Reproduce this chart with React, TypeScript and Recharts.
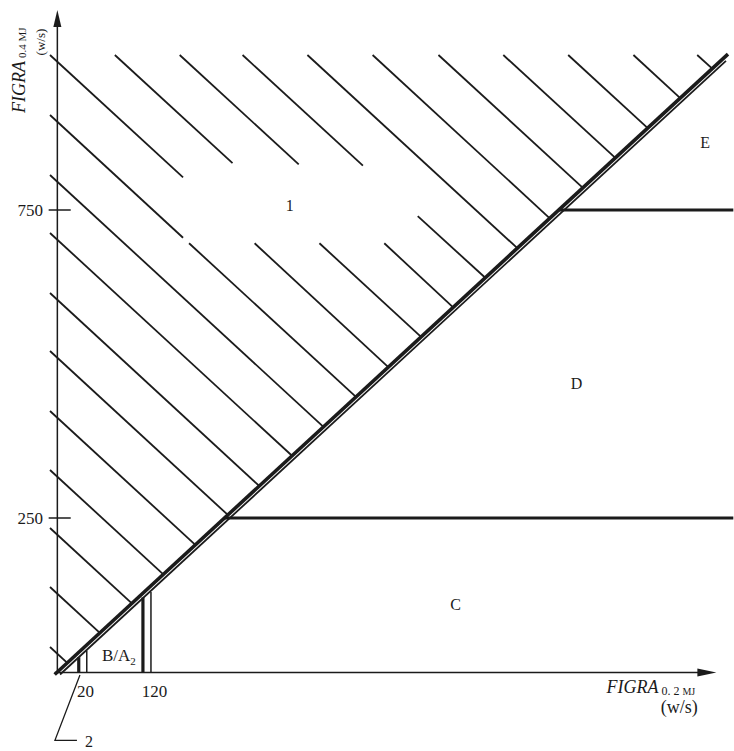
import React from "react";
import { ComposedChart, Line, Scatter, XAxis, YAxis } from "recharts";

type Seg = [number, number, number, number];
type Pt = { x: number; y: number };

// Hatch segments (x1, y1, x2, y2), in FIGRA units
const hatchSegments: Seg[] = [
  [-11, 40.6, 14.8, 14.8],
  [-11, 138, 63.5, 63.5],
  [-11, 233.8, 111.4, 111.4],
  [-11, 327.9, 158.5, 158.5],
  [-11, 423.7, 206.4, 206.4],
  [-11, 521.1, 255, 255],
  [-11, 615.3, 302, 302],
  [-11, 712.7, 351, 351],
  [-11, 806.8, 398, 398],
  [-11, 904.2, 188, 705],
  [197, 696, 446.6, 446.6],
  [-11, 1001.6, 188, 803],
  [295, 696, 495, 495],
  [86, 1001.6, 262, 826],
  [392, 696, 544, 544],
  [183, 1001.6, 361, 824],
  [489, 696, 592, 592],
  [277, 1001.6, 457, 822],
  [539, 740, 640, 640],
  [374, 1001.6, 688, 688],
  [471.5, 1001.6, 736.5, 736.5],
  [570, 1001.6, 786, 786],
  [667, 1001.6, 834.5, 834.5],
  [764, 1001.6, 883, 883],
  [861.6, 1001.6, 931.6, 931.6],
  [957, 1001.6, 979.5, 979.5],
];

const diagonalThick: Pt[] = [{ x: -4, y: -4 }, { x: 1003, y: 1003 }];
const diagonalThin: Pt[] = [{ x: 4, y: -4 }, { x: 1000, y: 992 }];
const classBoundaries: Seg[] = [
  [250, 250, 1011, 250],
  [750, 750, 1011, 750],
];
const thickVerticals: Seg[] = [
  [32, 0, 32, 24],
  [128, 0, 128, 121],
];
const thinVerticals: Seg[] = [
  [44, 0, 44, 35],
  [140, 0, 140, 130],
];
const leaderLine: Pt[] = [
  { x: 33.8, y: -4.9 },
  { x: -3.6, y: -111 },
  { x: 29.3, y: -111 },
];
const yAxisLine: Pt[] = [{ x: 0, y: -2 }, { x: 0, y: 1060 }];
const xAxisLine: Pt[] = [{ x: -4, y: -1 }, { x: 970, y: -1 }];
const arrowTips = [
  { x: 0, y: 1074.7, dir: "up" },
  { x: 985.7, y: -1, dir: "right" },
];

const yTicks = [250, 750];
const yTickLabelX = -21.5;
const yTickMarkX: [number, number] = [-13, 20];
const xTickLabels = ["20", "120"];
const xTickAt = [29.3, 126.4];
const xTickLabelY = -30.8;

const regionLabels = [
  { x: 347.6, y: 758, text: "1" },
  { x: 969, y: 860, text: "E" },
  { x: 776.5, y: 469, text: "D" },
  { x: 595.6, y: 110, text: "C" },
  { x: 47.2, y: -112, text: "2" },
];
const classBA = [{ x: 66.7, y: 27.6, main: "B/A", sub: "2" }];
const xTitle = [{ x: 821.3, y: -34, main: "FIGRA", sub1: "0. 2 ", sub2: "MJ" }];
const xTitleUnit = [{ x: 930, y: -66.5, text: "(w/s)" }];
const yTitle = [{ x: -48.4, y: 907.5, main: "FIGRA", sub: "0.4 MJ" }];
const yTitleUnit = [{ x: -18.5, y: 1022.7, text: "(w/s)" }];

const INK = "#1b1b1b";
const SERIF = "'Liberation Serif', 'DejaVu Serif', 'Times New Roman', serif";

const segData = (s: Seg): Pt[] => [
  { x: s[0], y: s[1] },
  { x: s[2], y: s[3] },
];

const tickLabelData = yTicks.map((v) => ({ x: yTickLabelX, y: v, text: String(v) }));
const tickMarkData = yTicks.map((v) => [
  { x: yTickMarkX[0], y: v },
  { x: yTickMarkX[1], y: v },
]);
const xTickData = xTickLabels.map((t, i) => ({ x: xTickAt[i], y: xTickLabelY, text: t }));

const CenterText = (p: any) => (
  <text x={p.cx} y={p.cy} dy="0.35em" textAnchor="middle" fontFamily={SERIF} fontSize={16} fill={INK}>
    {p.payload.text}
  </text>
);
const RightText = (p: any) => (
  <text x={p.cx} y={p.cy} dy="0.35em" textAnchor="end" fontFamily={SERIF} fontSize={17} fill={INK}>
    {p.payload.text}
  </text>
);
const LeftText = (p: any) => (
  <text x={p.cx} y={p.cy} dy="0.35em" textAnchor="start" fontFamily={SERIF} fontSize={17} fill={INK}>
    {p.payload.text}
  </text>
);
const BAText = (p: any) => (
  <text x={p.cx} y={p.cy} dy="0.35em" textAnchor="start" fontFamily={SERIF} fontSize={17} fill={INK}>
    {p.payload.main}
    <tspan fontSize={11} dy={4}>
      {p.payload.sub}
    </tspan>
  </text>
);
const XTitleText = (p: any) => (
  <text x={p.cx} y={p.cy} textAnchor="start" fontFamily={SERIF} fill={INK}>
    <tspan fontStyle="italic" fontSize={18}>
      {p.payload.main}
    </tspan>
    <tspan fontSize={12} dx={3} dy={2}>
      {p.payload.sub1}
    </tspan>
    <tspan fontSize={10}>{p.payload.sub2}</tspan>
  </text>
);
const UnitText = (p: any) => (
  <text x={p.cx} y={p.cy} textAnchor="middle" fontFamily={SERIF} fontSize={18} fill={INK}>
    {p.payload.text}
  </text>
);
const YTitleText = (p: any) => (
  <text
    x={p.cx}
    y={p.cy}
    transform={`rotate(-90 ${p.cx} ${p.cy})`}
    textAnchor="start"
    fontFamily={SERIF}
    fill={INK}
  >
    <tspan fontStyle="italic" fontSize={18}>
      {p.payload.main}
    </tspan>
    <tspan fontSize={11} dx={3} dy={1}>
      {p.payload.sub}
    </tspan>
  </text>
);
const YUnitText = (p: any) => (
  <text
    x={p.cx}
    y={p.cy}
    transform={`rotate(-90 ${p.cx} ${p.cy})`}
    textAnchor="middle"
    fontFamily={SERIF}
    fontSize={13}
    fill={INK}
  >
    {p.payload.text}
  </text>
);
const ArrowHead = (p: any) => {
  const { cx, cy, payload } = p;
  const pts =
    payload.dir === "up"
      ? `${cx},${cy} ${cx - 4},${cy + 17} ${cx + 4},${cy + 17}`
      : `${cx},${cy} ${cx - 19},${cy - 4} ${cx - 19},${cy + 4}`;
  return <polygon points={pts} fill={INK} />;
};

const lineProps = {
  dataKey: "y",
  type: "linear" as const,
  dot: false,
  activeDot: false,
  isAnimationActive: false,
  legendType: "none" as const,
  stroke: INK,
};

export default function App() {
  return (
    <div style={{ position: "absolute", left: 0, top: 0, background: "#fff" }}>
      <ComposedChart
        width={734}
        height={751}
        margin={{ top: 6.72, right: 0.68, bottom: 0.15, left: 0.52 }}
      >
        <XAxis type="number" dataKey="x" domain={[-85, 1010]} hide />
        <YAxis type="number" dataKey="y" domain={[-128, 1080]} hide />

        {hatchSegments.map((s, i) => (
          <Line key={`h${i}`} {...lineProps} data={segData(s)} strokeWidth={1.8} />
        ))}

        <Line {...lineProps} data={yAxisLine} strokeWidth={1.5} />
        <Line {...lineProps} data={xAxisLine} strokeWidth={1.5} />
        {tickMarkData.map((d, i) => (
          <Line key={`t${i}`} {...lineProps} data={d} strokeWidth={1.5} />
        ))}

        {classBoundaries.map((s, i) => (
          <Line key={`b${i}`} {...lineProps} data={segData(s)} strokeWidth={3} />
        ))}
        {thickVerticals.map((s, i) => (
          <Line key={`v${i}`} {...lineProps} data={segData(s)} strokeWidth={3.2} />
        ))}
        {thinVerticals.map((s, i) => (
          <Line key={`w${i}`} {...lineProps} data={segData(s)} strokeWidth={1.5} />
        ))}
        <Line {...lineProps} data={leaderLine} strokeWidth={1.3} />

        <Line {...lineProps} data={diagonalThin} strokeWidth={1.8} />
        <Line {...lineProps} data={diagonalThick} strokeWidth={3.6} />

        <Scatter data={arrowTips} shape={ArrowHead} isAnimationActive={false} legendType="none" />
        <Scatter data={tickLabelData} shape={RightText} isAnimationActive={false} legendType="none" />
        <Scatter data={xTickData} shape={LeftText} isAnimationActive={false} legendType="none" />
        <Scatter data={regionLabels} shape={CenterText} isAnimationActive={false} legendType="none" />
        <Scatter data={classBA} shape={BAText} isAnimationActive={false} legendType="none" />
        <Scatter data={xTitle} shape={XTitleText} isAnimationActive={false} legendType="none" />
        <Scatter data={xTitleUnit} shape={UnitText} isAnimationActive={false} legendType="none" />
        <Scatter data={yTitle} shape={YTitleText} isAnimationActive={false} legendType="none" />
        <Scatter data={yTitleUnit} shape={YUnitText} isAnimationActive={false} legendType="none" />
      </ComposedChart>
    </div>
  );
}
